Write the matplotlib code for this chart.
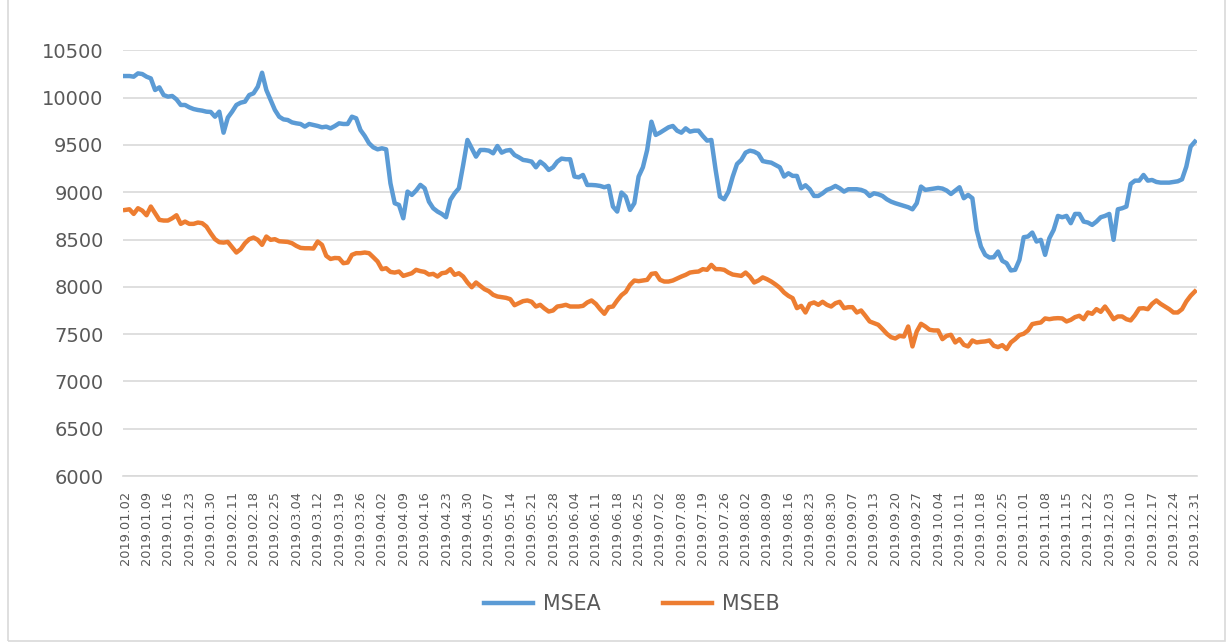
import numpy as np
import matplotlib
matplotlib.use("Agg")
import matplotlib.pyplot as plt
from matplotlib.patches import Rectangle

# weekly tick labels (every 5th trading day)
tick_labels = [
    "2019.01.02", "2019.01.09", "2019.01.16", "2019.01.23", "2019.01.30",
    "2019.02.11", "2019.02.18", "2019.02.25", "2019.03.04", "2019.03.12",
    "2019.03.19", "2019.03.26", "2019.04.02", "2019.04.09", "2019.04.16",
    "2019.04.23", "2019.04.30", "2019.05.07", "2019.05.14", "2019.05.21",
    "2019.05.28", "2019.06.04", "2019.06.11", "2019.06.18", "2019.06.25",
    "2019.07.02", "2019.07.08", "2019.07.19", "2019.07.26", "2019.08.02",
    "2019.08.09", "2019.08.16", "2019.08.23", "2019.08.30", "2019.09.07",
    "2019.09.13", "2019.09.20", "2019.09.27", "2019.10.04", "2019.10.11",
    "2019.10.18", "2019.10.25", "2019.11.01", "2019.11.08", "2019.11.15",
    "2019.11.22", "2019.12.03", "2019.12.10", "2019.12.17", "2019.12.24",
    "2019.12.31",
]

msea = [
    10229, 10229, 10222, 10257, 10250, 10222, 10204, 10081, 10109, 10028,
    10011, 10018, 9982, 9923, 9923, 9898, 9880, 9870, 9863, 9852,
    9849, 9799, 9852, 9630, 9790, 9852, 9923, 9947, 9958, 10028,
    10046, 10116, 10264, 10081, 9975, 9870, 9799, 9771, 9764, 9739,
    9729, 9722, 9694, 9722, 9711, 9701, 9687, 9694, 9676, 9700,
    9729, 9722, 9722, 9799, 9782, 9658, 9595, 9518, 9475, 9454,
    9465, 9454, 9095, 8884, 8866, 8725, 9007, 8972, 9018, 9078,
    9042, 8901, 8831, 8796, 8771, 8736, 8919, 8989, 9042, 9289,
    9553, 9465, 9377, 9447, 9447, 9440, 9412, 9489, 9419, 9440,
    9447, 9394, 9370, 9342, 9335, 9324, 9264, 9324, 9289, 9236,
    9264, 9324, 9356, 9349, 9349, 9166, 9158, 9183, 9077, 9077,
    9074, 9067, 9053, 9067, 8849, 8796, 8997, 8954, 8813, 8884,
    9166, 9264, 9447, 9746, 9606, 9630, 9658, 9687, 9701, 9651,
    9630, 9676, 9641, 9651, 9651, 9595, 9546, 9553, 9236, 8954,
    8926, 9007, 9166, 9299, 9342, 9419, 9440, 9430, 9405, 9330,
    9320, 9313, 9289, 9264, 9166, 9201, 9173, 9173, 9042, 9074,
    9032, 8961, 8961, 8989, 9025, 9042, 9067, 9042, 9007, 9032,
    9032, 9032, 9025, 9007, 8961, 8989, 8979, 8961, 8926, 8901,
    8884, 8870, 8856, 8842, 8820, 8884, 9060, 9025, 9032, 9039,
    9046, 9039, 9018, 8982, 9018, 9053, 8937, 8972, 8937, 8600,
    8426, 8338, 8310, 8313, 8373, 8275, 8250, 8173, 8180, 8285,
    8525, 8532, 8574, 8479, 8497, 8338, 8514, 8602, 8750, 8736,
    8750, 8673, 8771, 8771, 8690, 8680, 8655, 8690, 8736, 8750,
    8771, 8497, 8820, 8831, 8849, 9088, 9123, 9123, 9183, 9123,
    9130, 9109, 9102, 9102, 9102, 9109, 9116, 9137, 9271, 9482,
    9535,
]

mseb = [
    8813, 8820, 8771, 8831, 8806, 8757, 8849, 8778, 8708, 8701,
    8701, 8725, 8757, 8666, 8690, 8666, 8666, 8680, 8673, 8637,
    8567, 8504, 8472, 8468, 8475, 8419, 8363, 8398, 8461, 8504,
    8521, 8497, 8444, 8532, 8497, 8504, 8482, 8479, 8475, 8461,
    8433, 8412, 8408, 8408, 8405, 8479, 8444, 8328, 8295, 8305,
    8303, 8250, 8257, 8338, 8356, 8356, 8363, 8356, 8313, 8268,
    8187, 8197, 8158, 8151, 8162, 8116, 8130, 8144, 8180, 8166,
    8158, 8130, 8137, 8109, 8144, 8151, 8187, 8127, 8144, 8109,
    8046, 7996, 8046, 8011, 7975, 7954, 7916, 7898, 7891, 7884,
    7870, 7806, 7827, 7849, 7856, 7842, 7792, 7810, 7771, 7739,
    7750, 7792, 7799, 7810, 7792, 7792, 7792, 7799, 7835, 7856,
    7820, 7764, 7715, 7785, 7792, 7856, 7912, 7947, 8021, 8067,
    8060, 8067, 8074, 8137, 8144, 8074, 8056, 8056, 8067, 8088,
    8109, 8127, 8151, 8158, 8162, 8187, 8180, 8232, 8187, 8187,
    8180, 8151, 8130, 8123, 8116, 8151, 8109, 8046, 8067, 8100,
    8081, 8056, 8025, 7990, 7940, 7905, 7880, 7775, 7799, 7729,
    7820, 7835, 7810, 7842, 7810, 7792, 7827, 7842, 7775, 7785,
    7785, 7729, 7750, 7694, 7634, 7616, 7599, 7553, 7504, 7468,
    7454, 7482, 7475, 7581, 7370, 7528, 7609, 7581, 7546, 7539,
    7539, 7447, 7482, 7493, 7412, 7447, 7387, 7370, 7433, 7412,
    7419, 7423, 7433, 7377, 7363, 7384, 7342, 7412, 7447, 7490,
    7504, 7539, 7606, 7616, 7623, 7666, 7658, 7666, 7669, 7666,
    7634, 7651, 7680, 7694, 7658, 7729, 7715, 7764, 7736, 7792,
    7729, 7658, 7687, 7687, 7658, 7645, 7701, 7771, 7774, 7764,
    7820, 7856, 7820, 7792, 7764, 7729, 7729, 7764, 7845, 7905,
    7951,
]

W, H = 1227, 644
fig = plt.figure(figsize=(W / 100, H / 100), dpi=100)
ax = fig.add_axes([123 / W, 1 - 476 / H, (1197 - 123) / W, (476 - 50.4) / H])

x = np.arange(len(msea))
ax.plot(x, msea, color="#5B9BD5", lw=3.2, label="MSEA", solid_joinstyle="round")
ax.plot(x, mseb, color="#ED7D31", lw=3.2, label="MSEB", solid_joinstyle="round")

ax.set_xlim(-0.5, len(msea) - 0.5)
ax.set_ylim(6000, 10500)
ax.set_yticks(np.arange(6000, 10501, 500))
ax.set_xticks(np.arange(0, len(msea), 5))
ax.set_xticklabels(tick_labels, rotation=90, fontsize=9.3, color="#595959")
ax.tick_params(axis="y", labelsize=14, labelcolor="#595959", length=0, pad=14)
ax.tick_params(axis="x", length=0, pad=11)

ax.grid(axis="y", color="#D9D9D9", lw=1.2)
ax.set_axisbelow(True)
for s in ["top", "right", "left"]:
    ax.spines[s].set_visible(False)
ax.spines["bottom"].set_color("#D9D9D9")
ax.spines["bottom"].set_linewidth(1.2)

fig.legend(loc="center", bbox_to_anchor=(632 / W, 1 - 604 / H), ncol=2, frameon=False,
           fontsize=14.8, handlelength=2.4, handletextpad=0.5, columnspacing=3.0,
           labelcolor="#595959")

# chart-area frame
fig.patches.append(Rectangle((8 / W, 1 - 641 / H), (1225 - 8) / W, 1.0,
                             transform=fig.transFigure, fill=False,
                             edgecolor="#D9D9D9", lw=1.2))

fig.savefig("out.png", dpi=100)
